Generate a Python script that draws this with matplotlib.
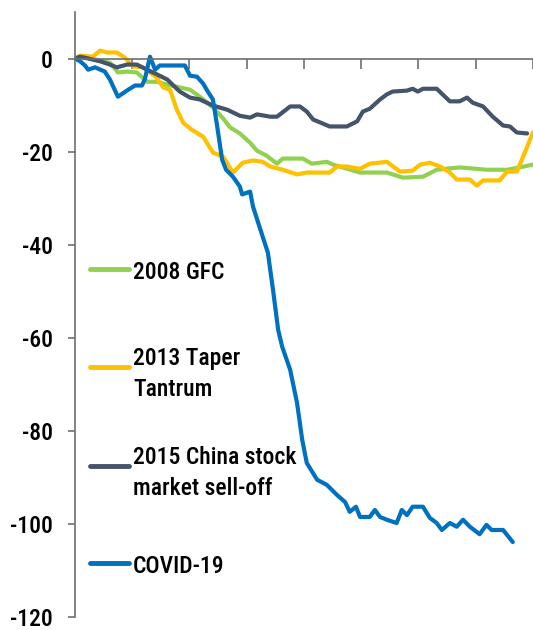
import matplotlib
matplotlib.use("Agg")
import matplotlib.pyplot as plt
from matplotlib import font_manager as fm

plt.rcParams['axes.unicode_minus'] = False

# days since start of each episode
gfc_x = [0, 0.9, 3.5, 6.1, 7.5, 9.1, 10.8, 12.6, 14.3, 16.1, 18.3, 20.1, 21.8, 24.1, 25.9, 27.1,
         28.8, 30.6, 31.8, 33.5, 35.3, 36.3, 39.8, 41.4, 44.0, 45.1, 49.8, 54.5, 57.3, 60.8,
         63.2, 67.2, 72.0, 75.5, 77.7, 80.0]
gfc_y = [0, 0.4, -0.2, -0.9, -3.0, -2.8, -3.0, -5.0, -5.0, -5.6, -6.2, -6.7, -8.2, -10.5, -12.9, -14.8,
         -16.1, -18.1, -19.8, -20.9, -22.6, -21.5, -21.5, -22.6, -22.2, -22.8, -24.5, -24.5, -25.6, -25.4,
         -23.9, -23.4, -23.9, -23.9, -23.4, -22.8]

taper_x = [0, 0.9, 3.1, 4.4, 5.6, 7.3, 8.7, 10.1, 11.9, 14.3, 15.4, 16.6, 17.8, 18.9, 20.4, 22.4,
           24.1, 25.9, 27.6, 29.3, 31.1, 32.8, 34.1, 36.3, 38.8, 40.5, 44.5, 45.8, 47.5, 49.8,
           51.5, 54.5, 56.8, 59.0, 60.3, 62.0, 63.8, 65.5, 66.7, 69.0, 70.2, 71.3, 74.2, 75.5,
           77.2, 78.3, 80.0]
taper_y = [0, 0.6, 0.4, 1.7, 1.3, 1.3, 0.2, -1.7, -1.9, -4.1, -6.2, -6.7, -11.0, -13.8, -15.3, -16.8,
           -20.2, -21.1, -24.5, -22.4, -21.9, -22.2, -23.2, -23.9, -24.9, -24.5, -24.5, -23.2, -23.2, -23.7,
           -22.6, -22.2, -24.3, -24.1, -22.8, -22.4, -23.2, -24.5, -26.0, -26.0, -27.3, -26.2, -26.2, -24.3,
           -24.3, -21.1, -15.9]

china_x = [0, 0.9, 4.4, 6.1, 7.3, 9.1, 10.8, 12.6, 14.3, 16.1, 18.3, 20.1, 21.8, 24.1, 26.6, 28.8,
           30.6, 31.8, 34.1, 35.3, 37.6, 39.3, 40.5, 41.6, 44.5, 47.5, 49.3, 50.3, 51.5, 53.3,
           54.5, 55.5, 58.0, 59.0, 59.9, 60.8, 63.2, 65.5, 67.2, 68.5, 69.5, 71.3, 73.0, 74.8,
           76.0, 77.2, 79.0]
china_y = [0, 0.4, -0.6, -1.3, -1.9, -1.3, -1.3, -2.4, -3.4, -4.5, -7.1, -8.4, -8.8, -10.1, -11.0, -12.3,
           -12.7, -12.0, -12.5, -12.5, -10.3, -10.3, -11.4, -13.1, -14.6, -14.6, -13.5, -11.4, -10.8, -8.8,
           -7.7, -7.1, -6.9, -6.5, -7.1, -6.5, -6.5, -9.2, -9.2, -8.4, -9.5, -10.3, -12.5, -14.4,
           -14.6, -15.9, -16.1]

covid_x = [0, 0.9, 1.75, 2.3, 3.5, 5.2, 6.1, 7.5, 9.3, 10.5, 11.7, 12.2, 13.1, 14.0, 14.8, 19.2,
           20.1, 21.3, 22.4, 23.2, 24.1, 24.8, 25.7, 26.4, 27.6, 28.8, 29.2, 30.6, 31.1, 32.8,
           33.7, 34.6, 35.5, 36.2, 37.6, 38.8, 39.7, 40.5, 42.3, 44.0, 45.8, 47.2, 48.0, 49.1,
           49.8, 51.5, 52.4, 53.3, 54.5, 56.2, 57.1, 58.0, 59.0, 60.8, 62.0, 63.2, 64.1, 65.5,
           66.7, 67.8, 69.0, 70.7, 71.9, 72.8, 74.8, 76.5]
covid_y = [0, -0.6, -1.5, -2.4, -1.9, -2.8, -4.5, -8.2, -6.7, -5.8, -5.8, -4.5, 0.4, -2.4, -1.5, -1.5,
           -3.7, -3.9, -5.4, -7.1, -8.8, -14.2, -21.7, -23.9, -25.4, -27.5, -29.2, -28.6, -31.8, -38.3,
           -41.7, -49.7, -58.3, -61.9, -66.9, -74.0, -81.9, -86.9, -90.5, -91.6, -93.8, -95.3, -97.4, -96.3,
           -98.5, -98.5, -97.0, -98.5, -99.1, -99.8, -97.0, -98.1, -96.3, -96.3, -98.7, -99.8, -101.3, -99.8,
           -100.6, -99.1, -100.6, -102.2, -100.2, -101.3, -101.3, -103.9]

labels = ['2008 GFC', '2013 Taper\nTantrum', '2015 China stock\nmarket sell-off', 'COVID-19']
colors = ['#92D050', '#FFC000', '#44546A', '#0070C0']
yticks = [0, -20, -40, -60, -80, -100, -120]


def pick_font():
    # look for a narrow upright face (the original uses a condensed Calibri-like font)
    fonts = [f for f in fm.fontManager.ttflist if f.style == 'normal']
    for want in ['Liberation Sans Narrow', 'Roboto Condensed', 'Open Sans Condensed']:
        for wt in (500, 400):
            for f in fonts:
                if f.name == want and f.weight == wt:
                    return fm.FontProperties(fname=f.fname), 1.0
    for f in fonts:
        if f.name == 'DejaVu Sans' and 'condensed' in str(f.stretch) and f.weight == 400:
            return fm.FontProperties(fname=f.fname), 0.92
    return fm.FontProperties(family='Liberation Sans'), 0.9


fprop, fscale = pick_font()
fs = 17 * fscale

fig = plt.figure(figsize=(5.33, 6.3), dpi=100)
ax = fig.add_axes([0.1407, 0.0206, 0.859, 0.9604])

series = [(gfc_x, gfc_y), (taper_x, taper_y), (china_x, china_y), (covid_x, covid_y)]
for (xs, ys), c in zip(series, colors):
    ax.plot(xs, ys, color=c, linewidth=3, solid_capstyle='round', solid_joinstyle='round')

ax.set_xlim(0, 80)
ax.set_ylim(-120, 10)

axis_col = '#6e6e6e'
for s in ['top', 'right']:
    ax.spines[s].set_visible(False)
ax.spines['bottom'].set_position(('data', 0))
ax.spines['bottom'].set_color(axis_col)
ax.spines['left'].set_color(axis_col)
ax.spines['bottom'].set_linewidth(1.2)
ax.spines['left'].set_linewidth(1.2)

ax.set_xticks(range(10, 81, 10))
ax.set_xticklabels([])
ax.tick_params(axis='x', direction='out', length=7, width=1.2, color=axis_col)
ax.set_yticks(yticks)
ax.set_yticklabels([str(t) for t in yticks], fontproperties=fprop, fontsize=fs)
ax.tick_params(axis='y', direction='out', length=5, width=1.2, color=axis_col,
               pad=11, labelcolor='black')

# legend, drawn like the Excel one: handles level with the first text line
leg_y = [270, 368, 467, 564]
for lab, c, py in zip(labels, colors, leg_y):
    yf = 1 - py / 630
    fig.add_artist(plt.Line2D([90 / 533, 129 / 533], [yf + 0.002, yf + 0.002], color=c,
                              linewidth=3.5, solid_capstyle='round'))
    fig.text(133 / 533, yf, lab, fontproperties=fprop, fontsize=fs, va='center_baseline',
             ha='left', color='black', linespacing=1.4)

fig.savefig('out.png', dpi=100)
plt.close(fig)
